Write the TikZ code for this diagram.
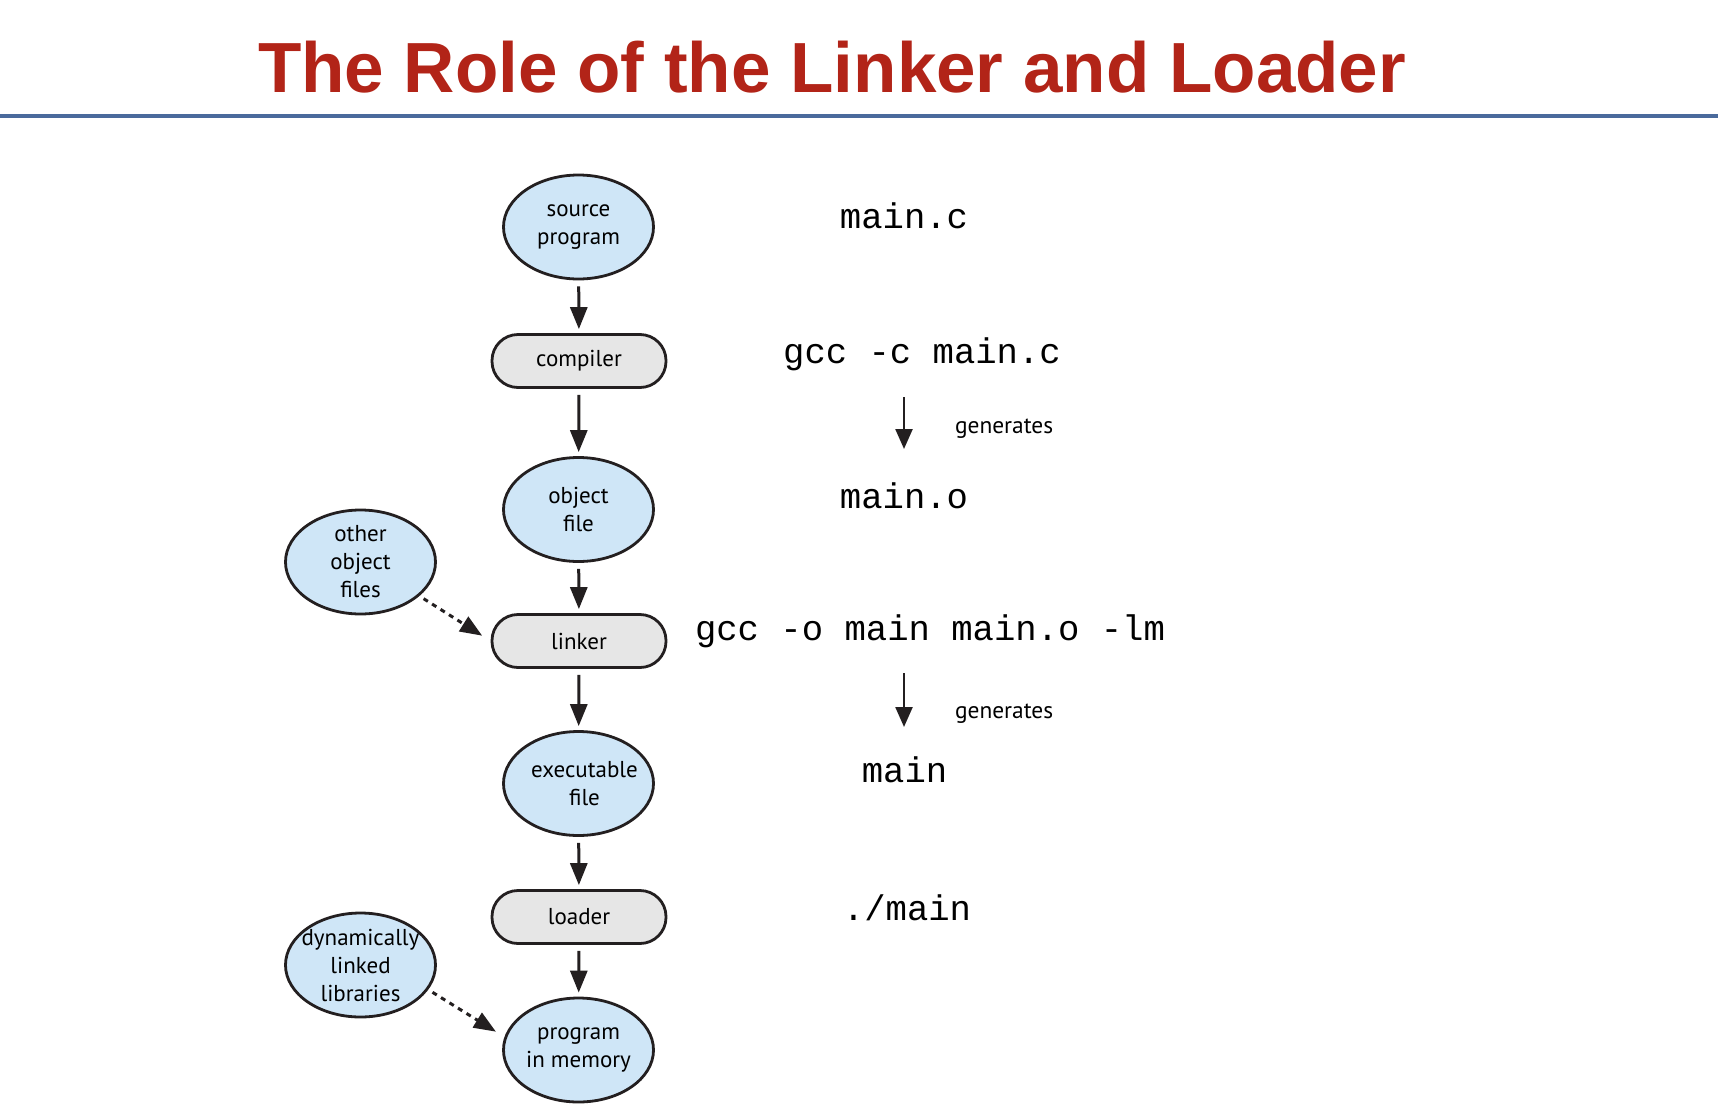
\documentclass[tikz,border=0pt]{standalone}
\usepackage{fontspec}
\setmainfont{PT Sans}
\setsansfont{Liberation Sans}
\setmonofont{Liberation Mono}
\usetikzlibrary{positioning,arrows.meta,shapes.geometric}
\definecolor{rojo}{HTML}{B22418}
\definecolor{azulraya}{HTML}{4A6A9C}
\definecolor{celeste}{HTML}{CFE6F7}
\definecolor{grisclaro}{HTML}{E6E6E6}
\definecolor{trazo}{HTML}{231F20}
\tikzset{
  archivo/.style={ellipse, draw=trazo, fill=celeste, line width=1.4pt,
    minimum width=75pt, minimum height=52pt, inner xsep=-6pt, inner ysep=-6pt,
    align=center, font=\fontsize{11.5}{14}\selectfont},
  etapa/.style={rectangle, rounded corners=13pt, draw=trazo, fill=grisclaro,
    line width=1.4pt, minimum width=87pt, minimum height=26.5pt,
    font=\fontsize{11.5}{14}\selectfont},
  orden/.style={anchor=base, font=\fontsize{17.8}{20}\ttfamily},
  flecha/.style={-{Triangle[length=11pt,width=8.5pt]}, line width=1.5pt,
    draw=trazo, shorten <=3pt, shorten >=2pt},
  punteada/.style={flecha, dash pattern=on 2.5pt off 2.5pt,
    shorten <=2.5pt, shorten >=5pt},
  genera/.style={-{Triangle[length=10pt,width=8.5pt]}, line width=1.2pt, draw=trazo},
}

\begin{document}
\begin{tikzpicture}[x=0.5pt, y=-0.5pt]
  \useasboundingbox (0,0) rectangle (1718,1114);
  % titulo y raya
  \node[anchor=base, text=rojo, font=\fontsize{35.5}{40}\sffamily\bfseries] (titulo) at (832,92)
    {The Role of the Linker and Loader};
  \draw[azulraya, line width=2pt] (0,116) -- (1718,116);

  % cadena principal
  \node[archivo] (fuente) at (578.5,227) {source\\program};
  \node[etapa]   (compilador) at (579,361) {compiler};
  \node[archivo] (objeto) at (578.5,509.5) {object\\file};
  \node[etapa]   (enlazador) at (579,641) {linker};
  \node[archivo] (ejecutable) at (578.5,783.5) {\hspace*{6pt}executable\\\hspace*{6pt}file};
  \node[etapa]   (cargador) at (579,917) {loader};
  \node[archivo] (memoria) at (578.5,1050) {program\\in memory};

  % entradas laterales
  \node[archivo] (otros) at (360.5,562) {other\\object\\files};
  \node[archivo] (dinamicas) at (360.5,965) {dynamically\\linked\\libraries};

  \draw[flecha] (fuente) -- (compilador);
  \draw[flecha] (compilador) -- (objeto);
  \draw[flecha] (objeto) -- (enlazador);
  \draw[flecha] (enlazador) -- (ejecutable);
  \draw[flecha] (ejecutable) -- (cargador);
  \draw[flecha] (cargador) -- (memoria);
  \draw[punteada] (otros.-30) -- (enlazador.west);
  \draw[punteada] (dinamicas.-20) -- (memoria.170);

  % ordenes, a la derecha
  \node[orden] (mainc) at (904,228) {main.c};
  \node[orden] (gccc) at (922,363) {gcc -c main.c};
  \node[orden] (maino) at (904,508) {main.o};
  \node[orden] (gcco) at (930,640) {gcc -o main main.o -lm};
  \node[orden] (mainx) at (904.5,782) {main};
  \node[orden] (ejecuta) at (907,920) {./main};

  \coordinate (g1a) at (904,397);
  \coordinate (g1b) at (904,449);
  \coordinate (g2a) at (904,673);
  \coordinate (g2b) at (904,727);
  \draw[genera] (g1a) -- (g1b);
  \draw[genera] (g2a) -- (g2b);
  \node[anchor=base west, font=\fontsize{11.7}{14}\selectfont] (gen1) at (948,433) {generates};
  \node[anchor=base west, font=\fontsize{11.7}{14}\selectfont] (gen2) at (948,718) {generates};
\end{tikzpicture}
\end{document}
